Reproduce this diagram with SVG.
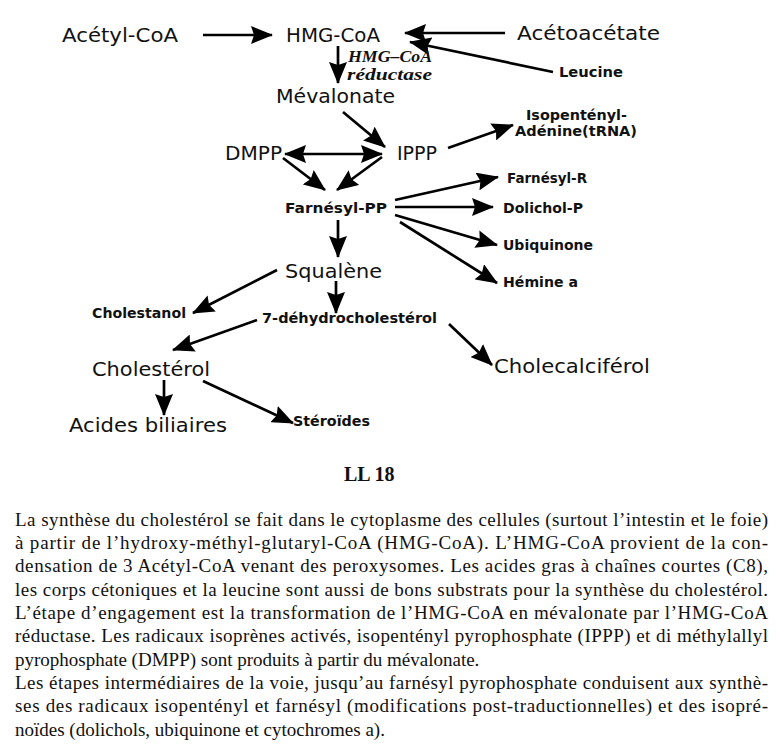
<svg xmlns="http://www.w3.org/2000/svg" width="780" height="747" viewBox="0 0 780 747">
<style>
.big{font-family:"DejaVu Sans","Liberation Sans",sans-serif;font-size:20px;fill:#111}
.sm{font-family:"DejaVu Sans","Liberation Sans",sans-serif;font-size:14px;font-weight:bold;fill:#111}
.enz{font-family:"Liberation Serif","DejaVu Serif",serif;font-size:16px;font-weight:bold;font-style:italic;fill:#111}
.ll{font-family:"Liberation Serif",serif;font-size:20px;font-weight:bold;fill:#111}
.p{font-family:"Liberation Serif",serif;font-size:19px;fill:#111}
.a{stroke:#000;stroke-width:2.7;fill:none;marker-end:url(#ah)}
.d{marker-start:url(#ah2)}
</style>
<defs>
<marker id="ah" viewBox="0 0 22 18" refX="21" refY="9" markerWidth="22" markerHeight="18" markerUnits="userSpaceOnUse" orient="auto">
<path d="M0,0 L22,9 L0,18 L3,9 z" fill="#000"/>
</marker>
<marker id="ah2" viewBox="0 0 22 18" refX="21" refY="9" markerWidth="22" markerHeight="18" markerUnits="userSpaceOnUse" orient="auto-start-reverse">
<path d="M0,0 L22,9 L0,18 L3,9 z" fill="#000"/>
</marker>
</defs>
<rect width="780" height="747" fill="#fff"/>
<g id="connectors">
<line class="a" x1="203" y1="35" x2="272" y2="35"/>
<line class="a" x1="505" y1="33" x2="405" y2="33"/>
<line class="a" x1="553" y1="72" x2="410" y2="42"/>
<line class="a" x1="338" y1="46" x2="338" y2="83"/>
<line class="a" x1="343" y1="112" x2="385" y2="147"/>
<line class="a d" x1="285" y1="154" x2="382" y2="154"/>
<line class="a" x1="448" y1="148" x2="513" y2="125"/>
<line class="a" x1="283" y1="158" x2="325" y2="190"/>
<line class="a" x1="382" y1="157" x2="337" y2="190"/>
<line class="a" x1="338" y1="220" x2="338" y2="257"/>
<line class="a" x1="395" y1="200" x2="498" y2="177"/>
<line class="a" x1="395" y1="207" x2="493" y2="207"/>
<line class="a" x1="395" y1="215" x2="497" y2="245"/>
<line class="a" x1="400" y1="222" x2="497" y2="283"/>
<line class="a" x1="277" y1="270" x2="193" y2="313"/>
<line class="a" x1="336" y1="281" x2="336" y2="313"/>
<line class="a" x1="257" y1="320" x2="173" y2="350"/>
<line class="a" x1="449" y1="324" x2="492" y2="365"/>
<line class="a" x1="164" y1="380" x2="164" y2="415"/>
<line class="a" x1="203" y1="381" x2="293" y2="423"/>
</g>
<g id="acetylcoa"><text class="big" x="62" y="42" textLength="116" lengthAdjust="spacingAndGlyphs">Acétyl-CoA</text></g>
<g id="hmgcoa"><text class="big" x="286" y="42" textLength="94" lengthAdjust="spacingAndGlyphs">HMG-CoA</text></g>
<g id="acetoacetate"><text class="big" x="517" y="40" textLength="143" lengthAdjust="spacingAndGlyphs">Acétoacétate</text></g>
<g id="leucine"><text class="sm" x="559" y="77" textLength="64" lengthAdjust="spacingAndGlyphs">Leucine</text></g>
<g id="enzyme"><text class="enz" x="348" y="62" textLength="84" lengthAdjust="spacingAndGlyphs">HMG–CoA</text><text class="enz" x="347" y="80" textLength="85" lengthAdjust="spacingAndGlyphs">réductase</text></g>
<g id="mevalonate"><text class="big" x="276" y="103" textLength="119" lengthAdjust="spacingAndGlyphs">Mévalonate</text></g>
<g id="isopentenyl"><text class="sm" x="526" y="120" textLength="101" lengthAdjust="spacingAndGlyphs">Isopentényl-</text><text class="sm" x="515" y="136" textLength="122" lengthAdjust="spacingAndGlyphs">Adénine(tRNA)</text></g>
<g id="dmpp"><text class="big" x="225" y="160" textLength="57" lengthAdjust="spacingAndGlyphs">DMPP</text></g>
<g id="ippp"><text class="big" x="397" y="160" textLength="40" lengthAdjust="spacingAndGlyphs">IPPP</text></g>
<g id="farnesylpp"><text class="sm" x="285" y="213" textLength="102" lengthAdjust="spacingAndGlyphs">Farnésyl-PP</text></g>
<g id="farnesylr"><text class="sm" x="507" y="183" textLength="80" lengthAdjust="spacingAndGlyphs">Farnésyl-R</text></g>
<g id="dolichol"><text class="sm" x="503" y="213" textLength="80" lengthAdjust="spacingAndGlyphs">Dolichol-P</text></g>
<g id="ubiquinone"><text class="sm" x="503" y="250" textLength="90" lengthAdjust="spacingAndGlyphs">Ubiquinone</text></g>
<g id="hemine"><text class="sm" x="503" y="287" textLength="75" lengthAdjust="spacingAndGlyphs">Hémine a</text></g>
<g id="squalene"><text class="big" x="285" y="278" textLength="97" lengthAdjust="spacingAndGlyphs">Squalène</text></g>
<g id="cholestanol"><text class="sm" x="92" y="318" textLength="94" lengthAdjust="spacingAndGlyphs">Cholestanol</text></g>
<g id="dhc"><text class="sm" x="262" y="323" textLength="175" lengthAdjust="spacingAndGlyphs">7-déhydrocholestérol</text></g>
<g id="cholecalciferol"><text class="big" x="494" y="373" textLength="156" lengthAdjust="spacingAndGlyphs">Cholecalciférol</text></g>
<g id="cholesterol"><text class="big" x="92" y="376" textLength="118" lengthAdjust="spacingAndGlyphs">Cholestérol</text></g>
<g id="acides"><text class="big" x="69" y="432" textLength="158" lengthAdjust="spacingAndGlyphs">Acides biliaires</text></g>
<g id="steroides"><text class="sm" x="293" y="426" textLength="77" lengthAdjust="spacingAndGlyphs">Stéroïdes</text></g>
<text class="ll" x="344" y="481">LL 18</text>
<g id="paragraph">
<text class="p" x="15" y="526" textLength="753" lengthAdjust="spacing">La synthèse du cholestérol se fait dans le cytoplasme des cellules (surtout l’intestin et le foie)</text>
<text class="p" x="15" y="549" textLength="753" lengthAdjust="spacing">à partir de l’hydroxy-méthyl-glutaryl-CoA (HMG-CoA). L’HMG-CoA provient de la con-</text>
<text class="p" x="15" y="572" textLength="753" lengthAdjust="spacing">densation de 3 Acétyl-CoA venant des peroxysomes. Les acides gras à chaînes courtes (C8),</text>
<text class="p" x="15" y="596" textLength="753" lengthAdjust="spacing">les corps cétoniques et la leucine sont aussi de bons substrats pour la synthèse du cholestérol.</text>
<text class="p" x="15" y="619" textLength="753" lengthAdjust="spacing">L’étape d’engagement est la transformation de l’HMG-CoA en mévalonate par l’HMG-CoA</text>
<text class="p" x="15" y="642" textLength="753" lengthAdjust="spacing">réductase. Les radicaux isoprènes activés, isopentényl pyrophosphate (IPPP) et di méthylallyl</text>
<text class="p" x="15" y="666">pyrophosphate (DMPP) sont produits à partir du mévalonate.</text>
<text class="p" x="15" y="689" textLength="753" lengthAdjust="spacing">Les étapes intermédiaires de la voie, jusqu’au farnésyl pyrophosphate conduisent aux synthè-</text>
<text class="p" x="15" y="712" textLength="753" lengthAdjust="spacing">ses des radicaux isopentényl et farnésyl (modifications post-traductionnelles) et des isopré-</text>
<text class="p" x="15" y="736">noïdes (dolichols, ubiquinone et cytochromes a).</text>
</g>
</svg>
